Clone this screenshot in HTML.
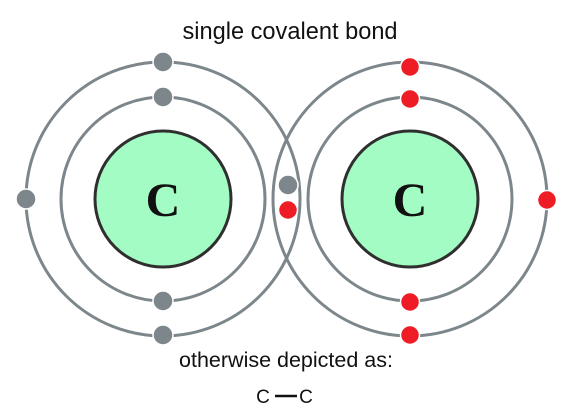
<!DOCTYPE html>
<html><head><meta charset="utf-8"><style>
html,body{margin:0;padding:0;background:#fff;}
svg{display:block;}
</style></head><body>
<svg width="579" height="420" viewBox="0 0 579 420">
<text x="290" y="39" text-anchor="middle" font-family="Liberation Sans, sans-serif" font-size="23.6" fill="#111">single covalent bond</text>
<g fill="none" stroke="#7d878b" stroke-width="3">
<circle cx="163" cy="199" r="137"/>
<circle cx="163" cy="199" r="102"/>
</g>
<g fill="none" stroke="#7d878b" stroke-width="3">
<circle cx="410" cy="199" r="137"/>
<circle cx="410" cy="199" r="102"/>
</g>
<circle cx="163" cy="199" r="68" fill="#a3fcc3" stroke="#2f2f2f" stroke-width="3"/>
<circle cx="410" cy="199" r="68" fill="#a3fcc3" stroke="#2f2f2f" stroke-width="3"/>
<text x="163" y="216" text-anchor="middle" font-family="Liberation Serif, serif" font-weight="bold" font-size="48" fill="#111">C</text>
<text x="410" y="216" text-anchor="middle" font-family="Liberation Serif, serif" font-weight="bold" font-size="48" fill="#111">C</text>
<g fill="#7d878b" stroke="#fff" stroke-width="1.5">
<circle cx="163" cy="62" r="10"/>
<circle cx="163" cy="97" r="10"/>
<circle cx="163" cy="301" r="10"/>
<circle cx="163" cy="335" r="10"/>
<circle cx="26" cy="199" r="10"/>
<circle cx="288" cy="185" r="10"/>
</g>
<g fill="#ee1c25" stroke="#fff" stroke-width="1.5">
<circle cx="410" cy="67" r="9.5"/>
<circle cx="410" cy="99" r="9.5"/>
<circle cx="410" cy="302" r="9.5"/>
<circle cx="410" cy="335" r="9.5"/>
<circle cx="547" cy="200" r="9.5"/>
<circle cx="288" cy="210" r="9.5"/>
</g>
<text x="286" y="367" text-anchor="middle" font-family="Liberation Sans, sans-serif" font-size="21.5" fill="#111">otherwise depicted as:</text>
<text x="263" y="403" text-anchor="middle" font-family="Liberation Sans, sans-serif" font-size="19" fill="#111">C</text>
<line x1="275" y1="396" x2="297" y2="396" stroke="#111" stroke-width="2.5"/>
<text x="306" y="403" text-anchor="middle" font-family="Liberation Sans, sans-serif" font-size="19" fill="#111">C</text>
</svg>
</body></html>
